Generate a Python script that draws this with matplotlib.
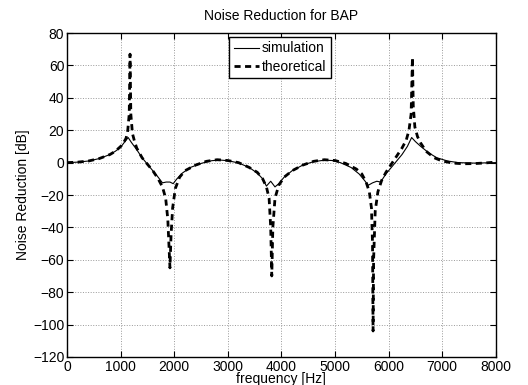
import numpy as np
from matplotlib import pyplot as plt

plt.rcParams['font.family'] = ['Liberation Sans', 'DejaVu Sans']

# theoretical noise reduction
theo_f = [0, 200, 400, 600, 800, 900, 1000, 1050, 1100, 1130, 1160, 1175, 1190, 1220,
          1260, 1300, 1400, 1500, 1600, 1700, 1780, 1840, 1880, 1900, 1920, 1940, 1970,
          2020, 2100, 2200, 2400, 2600, 2800, 3000, 3200, 3400, 3550, 3650, 3720, 3770,
          3800, 3820, 3840, 3880, 3950, 4050, 4200, 4400, 4600, 4800, 5000, 5200, 5400,
          5500, 5580, 5640, 5680, 5700, 5710, 5720, 5750, 5800, 5870, 5950, 6050, 6150,
          6250, 6330, 6380, 6420, 6445, 6460, 6490, 6540, 6600, 6700, 6850, 7000, 7200,
          7400, 7600, 7800, 8000]
theo_db = [0, 0.3, 1, 2.5, 5, 7, 10, 12, 15, 19, 30, 67, 30, 18,
           13, 9, 3, -1, -5, -10, -15, -22, -35, -50, -65, -45, -28,
           -16, -9, -5, -1.5, 0.8, 1.8, 1.3, 0, -3, -6, -10, -15, -22,
           -40, -70, -40, -22, -14, -9, -5, -1.5, 0.8, 1.8, 1.3, -0.5, -4,
           -7, -12, -18, -28, -50, -104, -60, -30, -18, -11, -6, -1, 4,
           9, 14, 20, 30, 65, 35, 22, 16, 12, 7, 3, 1, -0.3,
           -0.7, -0.6, -0.2, 0.3]

# simulated noise reduction
sim_f = [0, 200, 400, 600, 800, 900, 1000, 1080, 1140, 1200, 1300, 1400, 1500, 1600,
         1700, 1780, 1850, 1920, 1980, 2050, 2150, 2300, 2500, 2700, 2850, 3000, 3200,
         3400, 3550, 3650, 3720, 3800, 3880, 3950, 4050, 4200, 4400, 4600, 4800, 4950,
         5100, 5300, 5450, 5550, 5620, 5700, 5780, 5850, 5950, 6100, 6250, 6350, 6430,
         6500, 6600, 6750, 6900, 7100, 7300, 7600, 8000]
sim_db = [0, 0.3, 1, 2.5, 5, 7, 9.5, 13, 15.5, 12.5, 8, 3, -1, -5,
          -9, -12.5, -12, -12, -13, -10, -6.5, -3, -0.5, 1.2, 1.6, 1.2, -0.2,
          -3, -6.5, -10, -14.5, -11.5, -15, -13, -9, -5, -1.5, 0.6, 1.5, 1.3,
          0, -3, -7, -11, -14, -12.5, -11.5, -12, -7, -1, 5, 10, 15.5,
          13, 10, 6, 3, 1, 0, -0.3, 0]

fig = plt.figure(figsize=(5.28, 3.85), dpi=100)
ax = fig.add_axes([0.127, 0.073, 0.812, 0.841])

ax.plot(sim_f, sim_db, color='black', lw=0.8, label='simulation')
ax.plot(theo_f, theo_db, color='black', lw=2.0, ls=(0, (2.2, 1.6)), label='theoretical')

ax.set(xlim=(0, 8000), ylim=(-120, 80),
       xticks=np.arange(0, 8001, 1000), yticks=np.arange(-120, 81, 20))
ax.set_yticklabels([str(v).replace('-', '\u2212') for v in range(-120, 81, 20)])
ax.grid(True, ls=':', color='#999999', lw=0.7)
ax.tick_params(direction='in', top=True, right=True, labelsize=10, length=4, pad=2)
for s in ax.spines.values():
    s.set_linewidth(1.0)

ax.set_title('Noise Reduction for BAP', fontsize=10, pad=9.5)
# label sits at the very bottom edge, as in the original figure
ax.set_xlabel('frequency [Hz]', fontsize=10, labelpad=-1)
ax.set_ylabel('Noise Reduction [dB]', fontsize=10, labelpad=2)

leg = ax.legend(loc='upper center', bbox_to_anchor=(0.497, 1.0), fontsize=10,
                fancybox=False, framealpha=1, edgecolor='black', handlelength=1.8,
                handletextpad=0.15, borderpad=0.35, labelspacing=0.3, borderaxespad=0.25)
leg.get_frame().set_linewidth(1.0)

fig.savefig('out.png', dpi=100)
